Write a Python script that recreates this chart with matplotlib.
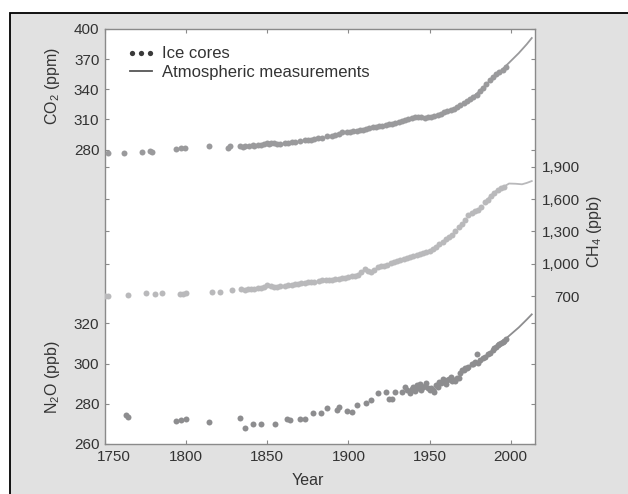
import matplotlib
matplotlib.use("Agg")
import matplotlib.pyplot as plt
from matplotlib.lines import Line2D
from matplotlib.patches import Rectangle
from matplotlib.transforms import ScaledTranslation
from matplotlib.legend_handler import HandlerLine2D

# ----- data -----
CO2_ICE_YEAR = [1752, 1762, 1773, 1778, 1779, 1794, 1797, 1799, 1814, 1826, 1827,
                1833, 1835, 1836, 1839, 1841, 1842, 1844, 1846, 1848, 1850, 1851, 1852,
                1854, 1856, 1858, 1861, 1863, 1865, 1867, 1870, 1873, 1875, 1877, 1879,
                1881, 1884, 1887, 1890, 1892, 1894, 1896, 1899, 1901, 1903, 1905, 1907,
                1909, 1911, 1913, 1915, 1917, 1919, 1921, 1923, 1925, 1927, 1929,
                1931, 1933, 1935, 1937, 1939, 1941, 1943, 1945, 1947, 1949, 1951,
                1953, 1955, 1957, 1959, 1961, 1963, 1965, 1967, 1969, 1971, 1973,
                1975, 1977, 1979, 1981, 1983, 1985, 1987, 1989, 1991, 1993, 1995, 1997]
CO2_ICE_PPM = [277, 277, 278, 279, 277.5, 281, 281.5, 282, 284, 282, 284,
               283.5, 282.5, 284, 284, 284.5, 283.5, 285, 285, 286, 287, 286, 287,
               286.5, 286, 286, 286.5, 287, 287.5, 288, 289, 289.5, 290, 290, 291,
               292, 292, 293.5, 294, 295, 296, 297, 297, 297.5, 298, 298.5, 299,
               299.5, 300, 301, 302, 302, 303, 303.5, 304, 305, 305.5, 306,
               307, 308, 309, 310, 311, 312, 312, 312, 311.5, 312, 312,
               313, 314, 315.5, 317, 318, 319, 320, 322, 324, 326, 328,
               330, 332, 334, 338, 341, 345, 349, 352, 355, 357, 359, 362]
CO2_ATM_YEAR = [1958, 1965, 1970, 1975, 1980, 1985, 1990, 1995, 2000, 2005, 2010, 2013]
CO2_ATM_PPM = [315, 320, 325, 330, 337, 345, 353, 360, 368, 376, 385, 391]

CH4_ICE_YEAR = [1750, 1752, 1764, 1775, 1781, 1785, 1796, 1798, 1800, 1816, 1821, 1828,
                1834, 1836, 1838, 1840, 1842, 1844, 1846, 1848, 1850, 1852, 1854, 1856,
                1858, 1861, 1863, 1865, 1867, 1869, 1871, 1873, 1875, 1877, 1879, 1882,
                1884, 1886, 1888, 1890, 1892, 1894, 1896, 1898, 1900, 1902, 1904, 1906,
                1908, 1910, 1912, 1914, 1916, 1918, 1920, 1922, 1924, 1926, 1928, 1930,
                1932, 1934, 1936, 1938, 1940, 1942, 1944, 1946, 1948, 1950, 1952, 1954,
                1956, 1958, 1960, 1962, 1964, 1966, 1968, 1970, 1972, 1974, 1976, 1978,
                1980, 1982, 1984, 1986, 1988, 1990, 1992, 1994, 1996]
CH4_ICE_PPB = [700, 702, 710, 725, 718, 725, 718, 720, 731, 740, 740, 756,
               762, 760, 764, 765, 768, 770, 772, 785, 800, 792, 786, 788,
               790, 793, 798, 805, 809, 815, 820, 824, 826, 828, 827, 838,
               845, 849, 852, 853, 856, 860, 866, 870, 878, 884, 890, 895,
               920, 948, 935, 926, 945, 965, 975, 982, 990, 1005, 1015, 1025,
               1035, 1045, 1055, 1062, 1070, 1080, 1092, 1100, 1108, 1120, 1135, 1152,
               1180, 1200, 1225, 1245, 1270, 1305, 1340, 1372, 1405, 1450, 1470, 1485,
               1500, 1530, 1570, 1595, 1630, 1660, 1684, 1700, 1714]
CH4_ATM_YEAR = [1984, 1988, 1992, 1996, 1999, 2003, 2007, 2010, 2013]
CH4_ATM_PPB = [1570, 1635, 1688, 1716, 1744, 1742, 1737, 1750, 1767]

N2O_ICE_YEAR = [1763, 1764, 1794, 1797, 1800, 1814, 1833, 1836, 1841, 1846, 1855,
                1862, 1864, 1870, 1873, 1878, 1883, 1887, 1893, 1894, 1899, 1902,
                1905, 1911, 1914, 1918, 1923, 1925, 1927, 1929, 1933, 1935, 1936,
                1938, 1939, 1940, 1941, 1942, 1943, 1944, 1945, 1946, 1947, 1948,
                1949, 1950, 1951, 1952, 1953, 1954, 1955, 1956, 1957, 1958, 1959,
                1960, 1961, 1962, 1963, 1964, 1965, 1966, 1967, 1968, 1969, 1970,
                1971, 1972, 1973, 1974, 1976, 1977, 1978, 1979, 1980, 1981, 1983,
                1984, 1986, 1987, 1989, 1990, 1991, 1992, 1993, 1994, 1995, 1996, 1997]
N2O_ICE_PPB = [274.4, 273.3, 271.6, 272, 272.4, 271, 272.8, 267.8, 270, 270, 270,
               272.3, 271.7, 272.4, 272.3, 275.6, 275.6, 277.7, 276.8, 278.5, 276.4, 275.8,
               279.4, 280.2, 281.9, 285.2, 286, 282.5, 282.5, 285.7, 285.7, 288.2, 287,
               285.2, 287.5, 288.5, 286.5, 289.4, 288, 290, 286.9, 288.5, 289, 290.2,
               288, 286.9, 288, 287, 286, 289.5, 288.5, 291, 290.5, 292.2, 291,
               290, 291.9, 292.5, 293.5, 291.5, 292, 291.1, 293, 292.7, 295.5, 296.8,
               297, 298, 297.6, 298.5, 299.8, 300, 301, 304.6, 300.3, 302, 303,
               303.4, 305, 305.5, 306.8, 308, 308.5, 309.3, 310, 310.5, 310.9, 311.5, 312.1]
N2O_ATM_YEAR = [1976, 1980, 1985, 1990, 1995, 2000, 2005, 2010, 2013]
N2O_ATM_PPB = [299, 301, 304, 307.5, 311, 314.5, 318, 322, 324.5]

X_TICKS = [1750, 1800, 1850, 1900, 1950, 2000]
CO2_TICKS = [280, 310, 340, 370, 400]
CH4_TICKS = [700, 1000, 1300, 1600, 1900]
CH4_TICK_LABELS = ["700", "1,000", "1,300", "1,600", "1,900"]
N2O_TICKS = [260, 280, 300, 320]

# ----- style -----
W, H = 628, 494
BG = "#e1e1e1"
TEXT = "#333333"
SPINE = "#8a8a8a"
CO2_COLOR = "#9a9a9c"
CH4_COLOR = "#b9b9bb"
N2O_COLOR = "#8d8d8f"
MS = 4.3

plt.rcParams["font.family"] = ["Liberation Sans", "DejaVu Sans"]
plt.rcParams["mathtext.fontset"] = "custom"
plt.rcParams["mathtext.rm"] = "Liberation Sans"
plt.rcParams["mathtext.it"] = "Liberation Sans:italic"


def fx(px):
    return px / W


def fy(py):
    return 1 - py / H


fig = plt.figure(figsize=(W / 100, H / 100), dpi=100, facecolor="white")

# grey panel with black border (runs off the right and bottom edges)
fig.patches.append(Rectangle((fx(9.5), -0.1), 1.2, fy(13.5) + 0.1, transform=fig.transFigure,
                             facecolor=BG, edgecolor="black", linewidth=1.3, zorder=-5))

rect = [fx(105), fy(444), fx(535) - fx(105), fy(29) - fy(444)]
ax = fig.add_axes(rect)                       # N2O, carries the frame and x axis
ax_ch4 = fig.add_axes(rect, sharex=ax)
ax_co2 = fig.add_axes(rect, sharex=ax)
for a in (ax_ch4, ax_co2):
    a.set_frame_on(False)
    a.patch.set_visible(False)
    a.xaxis.set_visible(False)

ax.set_facecolor("white")
for s in ax.spines.values():
    s.set_color(SPINE)
    s.set_linewidth(1.0)

ax.set_xlim(1750, 2015)
ax.set_xticks(X_TICKS)
ax.tick_params(axis="x", direction="in", top=True, length=3, color=SPINE,
               labelsize=11, labelcolor=TEXT, pad=4)

# y scales
ax.set_ylim(260, 466.5)
ax_ch4.set_ylim(-673, 3178)
ax_co2.set_ylim(-13, 400)

ax.set_yticks(N2O_TICKS)
ax_ch4.set_yticks(CH4_TICKS, CH4_TICK_LABELS)
ax_co2.set_yticks(CO2_TICKS)

common = dict(axis="y", direction="in", left=True, right=True, length=3,
              color=SPINE, labelsize=11, labelcolor=TEXT)
ax.tick_params(labelleft=True, labelright=False, pad=4, **common)
ax_co2.tick_params(labelleft=True, labelright=False, pad=4, **common)
ax_ch4.tick_params(labelleft=False, labelright=True, pad=32.4, **common)
for lbl in ax_ch4.get_yticklabels():
    lbl.set_horizontalalignment("right")

# first year label sits a little to the right of its tick
first = ax.get_xticklabels()[0]
first.set_transform(first.get_transform() + ScaledTranslation(9 / 100, 0, fig.dpi_scale_trans))

# series
ax_co2.plot(CO2_ATM_YEAR, CO2_ATM_PPM, color=CO2_COLOR, lw=1.3, zorder=2)
ax_co2.plot(CO2_ICE_YEAR, CO2_ICE_PPM, "o", color=CO2_COLOR, ms=MS, mew=0, zorder=3)
ax_ch4.plot(CH4_ATM_YEAR, CH4_ATM_PPB, color=CH4_COLOR, lw=1.3, zorder=2)
ax_ch4.plot(CH4_ICE_YEAR, CH4_ICE_PPB, "o", color=CH4_COLOR, ms=MS, mew=0, zorder=3)
ax.plot(N2O_ATM_YEAR, N2O_ATM_PPB, color=N2O_COLOR, lw=1.3, zorder=2)
ax.plot(N2O_ICE_YEAR, N2O_ICE_PPB, "o", color=N2O_COLOR, ms=MS, mew=0, zorder=3)

# legend
dots = Line2D([], [], linestyle="none", marker="o", color="#3a3a3a", ms=3.8, mew=0)
line = Line2D([], [], color="#555555", lw=1.3)
ax_co2.legend([dots, line], ["Ice cores", "Atmospheric measurements"],
              handler_map={dots: HandlerLine2D(marker_pad=0.12, numpoints=3)},
              loc="upper left", bbox_to_anchor=(0.058, 0.958), frameon=False,
              borderpad=0, borderaxespad=0, handlelength=1.35, handletextpad=0.55,
              labelspacing=0.22, fontsize=12, labelcolor=TEXT)

# axis titles
fig.text(fx(52), fy(86), "CO$_2$ (ppm)", rotation=90, ha="center", va="center",
         fontsize=11.5, color=TEXT)
fig.text(fx(53), fy(377), "N$_2$O (ppb)", rotation=90, ha="center", va="center",
         fontsize=11.5, color=TEXT)
fig.text(fx(595), fy(232), "CH$_4$ (ppb)", rotation=90, ha="center", va="center",
         fontsize=11.5, color=TEXT)
fig.text(fx(308), fy(480), "Year", ha="center", va="center", fontsize=11.5, color=TEXT)

fig.savefig("out.png", dpi=100)
